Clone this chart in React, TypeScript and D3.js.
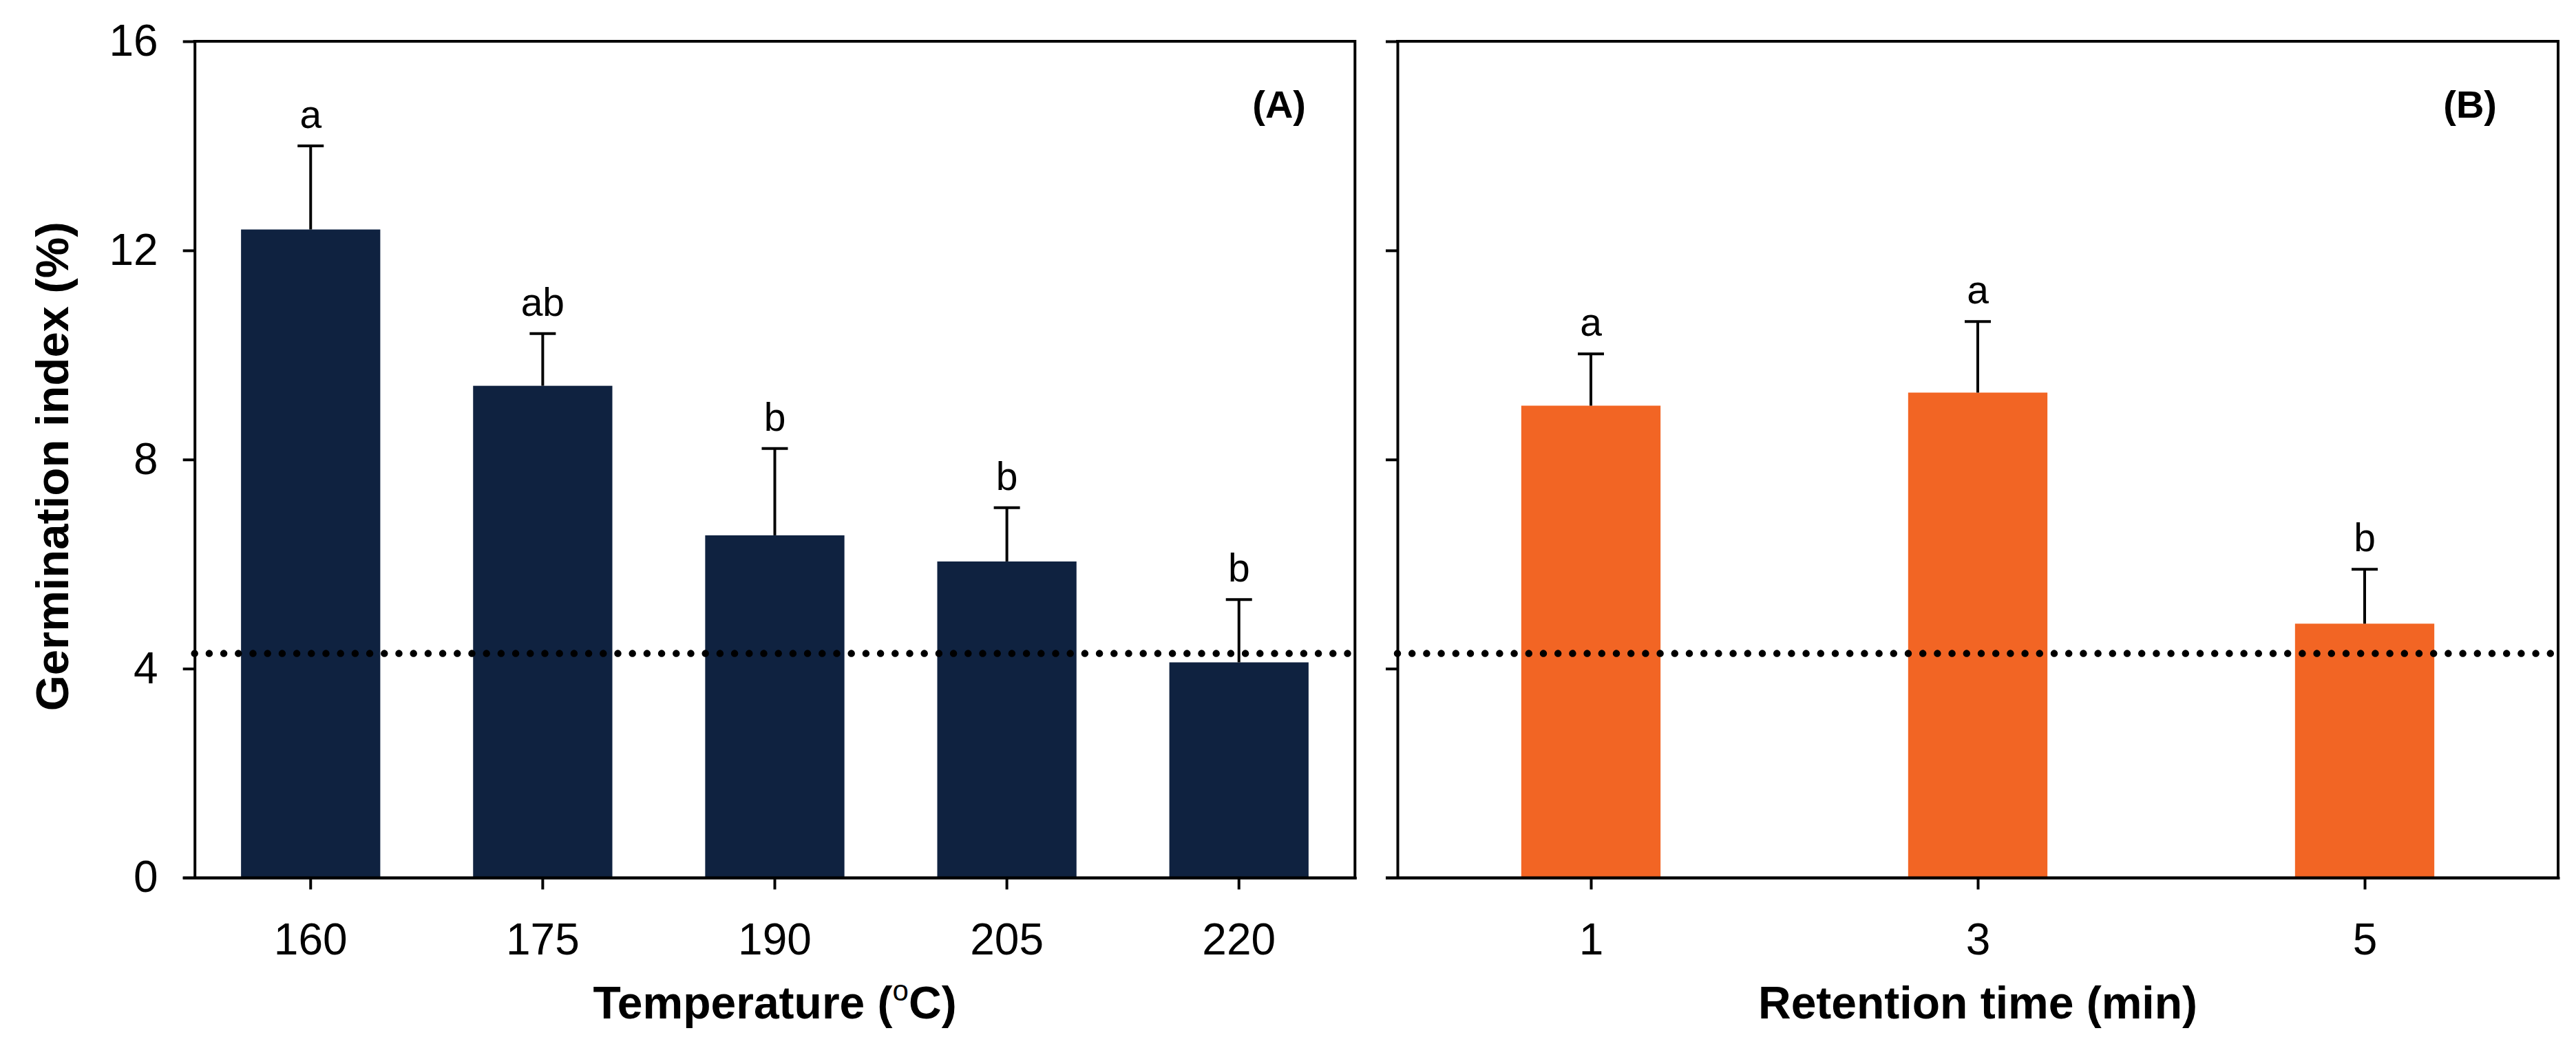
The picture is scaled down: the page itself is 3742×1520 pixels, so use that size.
import { useEffect, useRef } from 'react';
import * as d3 from 'd3';

/**
 * Germination index bar charts
 *
 * (A) by torrefaction temperature, (B) by retention time
 */

const temperatures = ['160', '175', '190', '205', '220'];
const temperatureMeans = [12.4, 9.41, 6.55, 6.05, 4.12];
const temperatureErrors = [1.6, 1.0, 1.66, 1.03, 1.2];
const temperatureLetters = ['a', 'ab', 'b', 'b', 'b'];

const retentionTimes = [1, 3, 5];
const retentionMeans = [9.03, 9.28, 4.86];
const retentionErrors = [0.99, 1.36, 1.04];
const retentionLetters = ['a', 'a', 'b'];

const yTicks = [0, 4, 8, 12, 16];
const controlLevel = 4.29;

const WIDTH = 3742;
const HEIGHT = 1520;
const FONT = '"Liberation Sans", Arial, Helvetica, sans-serif';
const NAVY = '#0F2240';
const ORANGE = '#F26524';

export default function App() {
  const svgRef = useRef<SVGSVGElement>(null);

  useEffect(() => {
    if (!svgRef.current) return;

    const svg = d3.select(svgRef.current);
    svg.selectAll('*').remove();
    svg.attr('width', WIDTH).attr('height', HEIGHT);

    const top = 60;
    const bottom = 1275.5;
    const panelA = [282.7, 1968.3];
    const panelB = [2030, 3716];
    const tickLen = 17;

    const yScale = d3.scaleLinear().domain([0, 16]).range([bottom, top]);

    const xA = d3
      .scaleBand<string>()
      .domain(temperatures)
      .range(panelA as [number, number])
      .paddingInner(0.4)
      .paddingOuter(0.2);

    const xB = d3.scaleLinear().domain([0, 6]).range(panelB as [number, number]);
    const barWidthB = xB(0.72) - xB(0);

    const styleAxis = (sel: any) => {
      sel.select('.domain').attr('stroke', '#000').attr('stroke-width', 4).attr('stroke-linecap', 'square');
      sel.selectAll('.tick line').attr('stroke', '#000').attr('stroke-width', 4);
      sel
        .selectAll('.tick text')
        .attr('fill', '#000')
        .attr('font-family', FONT)
        .attr('font-size', 64);
    };

    // Frame lines (top + right) for a panel
    const drawFrame = (x0: number, x1: number) => {
      svg
        .append('path')
        .attr('d', `M${x0},${top}H${x1}V${bottom}`)
        .attr('fill', 'none')
        .attr('stroke', '#000')
        .attr('stroke-width', 4)
        .attr('stroke-linecap', 'square')
        .attr('stroke-linejoin', 'miter');
    };

    // Control reference line (dotted)
    const drawControl = (x0: number, x1: number) => {
      svg
        .append('line')
        .attr('x1', x0)
        .attr('x2', x1)
        .attr('y1', yScale(controlLevel))
        .attr('y2', yScale(controlLevel))
        .attr('stroke', '#000')
        .attr('stroke-width', 10.5)
        .attr('stroke-linecap', 'round')
        .attr('stroke-dasharray', '0 21.2');
    };

    const drawBars = (
      centers: number[],
      width: number,
      means: number[],
      errors: number[],
      letters: string[],
      color: string
    ) => {
      const g = svg.append('g');
      centers.forEach((cx, i) => {
        g.append('rect')
          .attr('x', cx - width / 2)
          .attr('y', yScale(means[i]))
          .attr('width', width)
          .attr('height', yScale(0) - yScale(means[i]))
          .attr('fill', color);
        const yTop = yScale(means[i] + errors[i]);
        g.append('line')
          .attr('x1', cx)
          .attr('x2', cx)
          .attr('y1', yScale(means[i]))
          .attr('y2', yTop)
          .attr('stroke', '#000')
          .attr('stroke-width', 4);
        g.append('line')
          .attr('x1', cx - 19)
          .attr('x2', cx + 19)
          .attr('y1', yTop)
          .attr('y2', yTop)
          .attr('stroke', '#000')
          .attr('stroke-width', 4);
        g.append('text')
          .attr('x', cx)
          .attr('y', yTop - 26)
          .attr('text-anchor', 'middle')
          .attr('font-family', FONT)
          .attr('font-size', 57)
          .attr('fill', '#000')
          .text(letters[i]);
      });
    };

    drawBars(
      temperatures.map((t) => (xA(t) || 0) + xA.bandwidth() / 2),
      xA.bandwidth(),
      temperatureMeans,
      temperatureErrors,
      temperatureLetters,
      NAVY
    );
    drawBars(
      retentionTimes.map((t) => xB(t)),
      barWidthB,
      retentionMeans,
      retentionErrors,
      retentionLetters,
      ORANGE
    );

    // dots sit on top of the bars in the reference
    drawControl(panelA[0], panelA[1]);
    drawControl(panelB[0], panelB[1]);

    drawFrame(panelA[0], panelA[1]);
    drawFrame(panelB[0], panelB[1]);

    // Y axes
    svg
      .append('g')
      .attr('transform', `translate(${panelA[0]},0)`)
      .call(d3.axisLeft(yScale).tickValues(yTicks).tickSize(tickLen).tickSizeOuter(0).tickPadding(36))
      .call(styleAxis);

    svg
      .append('g')
      .attr('transform', `translate(${panelB[0]},0)`)
      .call(d3.axisLeft(yScale).tickValues(yTicks).tickSize(tickLen).tickSizeOuter(0).tickFormat(() => ''))
      .call(styleAxis);

    // X axes
    svg
      .append('g')
      .attr('transform', `translate(0,${bottom})`)
      .call(d3.axisBottom(xA).tickSize(tickLen).tickSizeOuter(0).tickPadding(49))
      .call(styleAxis);

    svg
      .append('g')
      .attr('transform', `translate(0,${bottom})`)
      .call(
        d3
          .axisBottom(xB)
          .tickValues(retentionTimes)
          .tickFormat((d) => String(d))
          .tickSize(tickLen)
          .tickSizeOuter(0)
          .tickPadding(49)
      )
      .call(styleAxis);

    // bottom lines run out to the left tick stubs
    [panelA, panelB].forEach(([x0, x1]) => {
      svg
        .append('line')
        .attr('x1', x0 - tickLen)
        .attr('x2', x1)
        .attr('y1', bottom)
        .attr('y2', bottom)
        .attr('stroke', '#000')
        .attr('stroke-width', 4);
    });

    // Panel labels
    svg
      .append('text')
      .attr('x', 1897)
      .attr('y', 171)
      .attr('text-anchor', 'end')
      .attr('font-family', FONT)
      .attr('font-weight', 'bold')
      .attr('font-size', 56)
      .text('(A)');
    svg
      .append('text')
      .attr('x', 3627)
      .attr('y', 171)
      .attr('text-anchor', 'end')
      .attr('font-family', FONT)
      .attr('font-weight', 'bold')
      .attr('font-size', 56)
      .text('(B)');

    // Axis titles
    svg
      .append('text')
      .attr('transform', `translate(99,${(top + bottom) / 2 + 10}) rotate(-90)`)
      .attr('text-anchor', 'middle')
      .attr('font-family', FONT)
      .attr('font-weight', 'bold')
      .attr('font-size', 67)
      .text('Germination index (%)');

    const tempTitle = svg
      .append('text')
      .attr('x', (panelA[0] + panelA[1]) / 2)
      .attr('y', 1480)
      .attr('text-anchor', 'middle')
      .attr('font-family', FONT)
      .attr('font-weight', 'bold')
      .attr('font-size', 66);
    tempTitle.append('tspan').text('Temperature (');
    tempTitle
      .append('tspan')
      .attr('font-size', 42)
      .attr('font-weight', 'normal')
      .attr('dy', -26)
      .text('o');
    tempTitle.append('tspan').attr('dy', 26).text('C)');

    svg
      .append('text')
      .attr('x', (panelB[0] + panelB[1]) / 2)
      .attr('y', 1480)
      .attr('text-anchor', 'middle')
      .attr('font-family', FONT)
      .attr('font-weight', 'bold')
      .attr('font-size', 66)
      .text('Retention time (min)');
  }, []);

  return (
    <div style={{ position: 'absolute', left: 0, top: 0, background: '#fff' }}>
      <svg ref={svgRef} style={{ display: 'block' }} />
    </div>
  );
}
